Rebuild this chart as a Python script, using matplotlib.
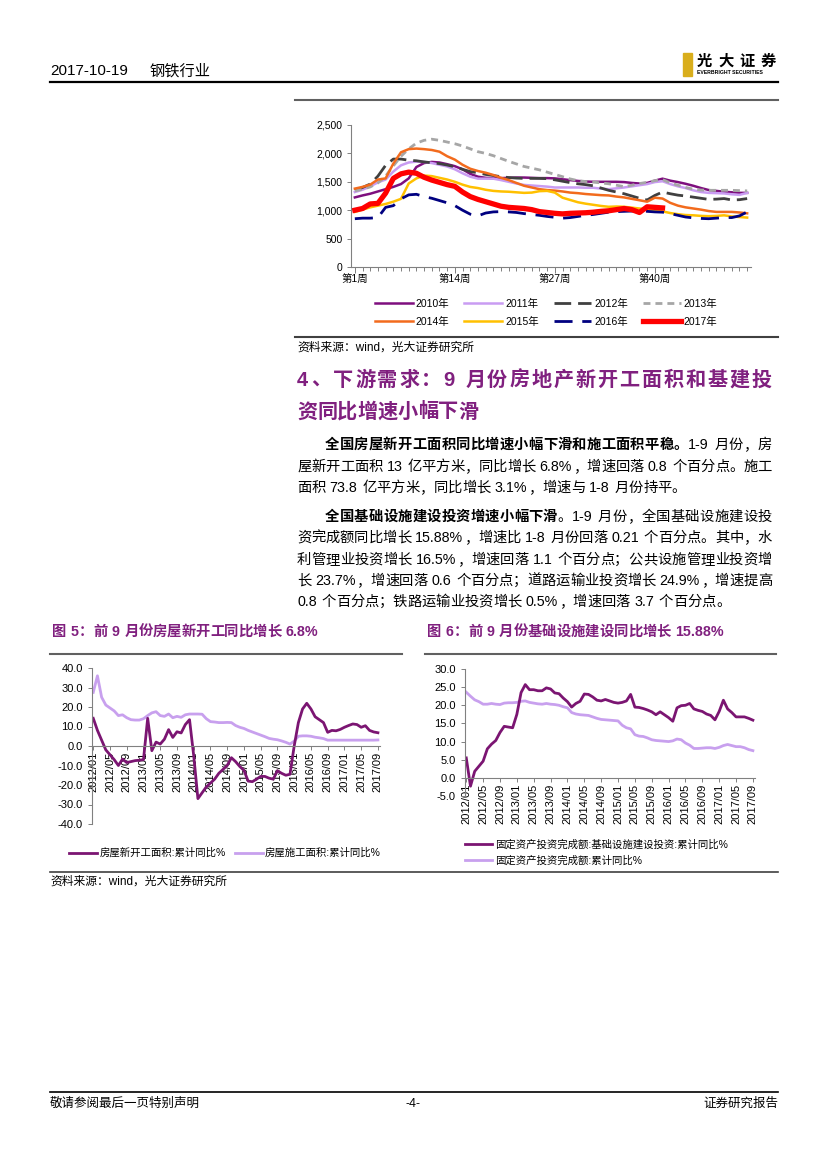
import matplotlib
matplotlib.use("Agg")
import matplotlib.pyplot as plt
from matplotlib.lines import Line2D
from matplotlib.patches import Rectangle
from matplotlib.ticker import FuncFormatter, FixedLocator, MultipleLocator
import numpy as np

plt.rcParams['font.family'] = ['Liberation Sans', 'Noto Sans CJK SC']

# ---------------- data ----------------
# weekly series (top chart)
weeks = np.arange(1, 53)
week_ticks = [1, 14, 27, 40]

s2010 = [1225, 1260, 1290, 1330, 1370, 1410, 1460, 1560, 1760, 1830, 1850, 1840, 1810, 1775, 1720, 1640,
         1590, 1570, 1560, 1565, 1570, 1575, 1575, 1570, 1565, 1565, 1560, 1545, 1530, 1515, 1505, 1500,
         1500, 1500, 1500, 1495, 1480, 1470, 1480, 1520, 1555, 1520, 1495, 1465, 1430, 1390, 1355, 1340,
         1325, 1315, 1305, 1305]
s2011 = [1320, 1360, 1420, 1490, 1540, 1680, 1790, 1840, 1855, 1850, 1830, 1800, 1770, 1720, 1650, 1590,
         1555, 1555, 1555, 1530, 1500, 1470, 1445, 1435, 1425, 1415, 1400, 1400, 1400, 1400, 1395, 1395,
         1380, 1370, 1385, 1400, 1420, 1440, 1460, 1495, 1510, 1460, 1420, 1390, 1350, 1320, 1305, 1300,
         1295, 1280, 1270, 1305]
s2012 = [1350, 1400, 1460, 1600, 1790, 1900, 1900, 1880, 1870, 1850, 1835, 1820, 1795, 1765, 1720, 1680,
         1660, 1630, 1610, 1590, 1575, 1565, 1560, 1560, 1560, 1555, 1535, 1510, 1485, 1465, 1450, 1430,
         1390, 1350, 1320, 1290, 1250, 1210, 1180, 1260, 1320, 1290, 1265, 1250, 1230, 1210, 1190, 1195,
         1205, 1180, 1185, 1205]
s2013 = [1340, 1370, 1410, 1480, 1600, 1780, 1950, 2080, 2180, 2230, 2250, 2230, 2200, 2170, 2130, 2080,
         2030, 2000, 1960, 1910, 1860, 1815, 1770, 1740, 1710, 1670, 1630, 1590, 1550, 1520, 1505, 1495,
         1480, 1465, 1440, 1415, 1440, 1470, 1490, 1520, 1540, 1480, 1440, 1400, 1370, 1355, 1350, 1350,
         1350, 1350, 1345, 1340]
s2014 = [1380, 1410, 1450, 1540, 1560, 1820, 2020, 2075, 2085, 2075, 2060, 2030, 1950, 1890, 1800, 1730,
         1690, 1660, 1620, 1570, 1530, 1480, 1430, 1400, 1370, 1355, 1345, 1330, 1310, 1300, 1285, 1275,
         1265, 1260, 1240, 1225, 1200, 1175, 1150, 1220, 1205, 1130, 1080, 1050, 1030, 1010, 985, 970,
         970, 970, 960, 945]
s2015 = [970, 1010, 1050, 1080, 1110, 1150, 1200, 1470, 1560, 1610, 1600, 1570, 1540, 1500, 1450, 1410,
         1390, 1360, 1340, 1330, 1325, 1315, 1305, 1310, 1335, 1340, 1310, 1220, 1180, 1140, 1115, 1095,
         1075, 1060, 1065, 1060, 1045, 1030, 1015, 1000, 980, 950, 930, 915, 910, 900, 895, 900,
         910, 890, 880, 870]
s2016 = [850, 860, 860, 870, 1050, 1080, 1200, 1270, 1280, 1240, 1210, 1170, 1130, 1080, 1000, 930,
         900, 950, 970, 975, 970, 960, 940, 925, 910, 890, 875, 860, 870, 890, 910, 925,
         945, 965, 975, 980, 985, 990, 980, 970, 965, 940, 910, 880, 865, 855, 850, 860,
         870, 870, 900, 970]
s2017 = [1000, 1030, 1110, 1120, 1300, 1560, 1640, 1670, 1650, 1580, 1530, 1490, 1450, 1420, 1320, 1240,
         1190, 1150, 1110, 1070, 1050, 1040, 1030, 1010, 975, 960, 945, 935, 945, 950, 955, 965,
         980, 990, 1010, 1030, 1010, 960, 1060, 1050, 1040]

# monthly series (bottom charts), 2012/01 .. 2017/09
months = [f"{y}/{m:02d}" for y in range(2012, 2018) for m in range(1, 13)][:69]

new_starts = [14.2, 8, 3, -2, -4.5, -7, -10, -6.7, -8.5, -8, -7.5, -7.3,
              -7, 14.2, -2.4, 2, 1, 3.5, 8.4, 4.4, 7.3, 6.7, 11, 13.5,
              -5, -27, -24, -21, -19, -17, -14, -12, -10, -6, -8, -10.5,
              -12.5, -18, -18.3, -17, -15.6, -15.6, -16.5, -17, -12.7, -14, -15, -14.5,
              0, 12, 19, 21.9, 19, 15, 13.5, 12, 7, 8, 7.8, 8.5,
              9.6, 10.5, 11.3, 11, 9.6, 10.4, 8, 7.2, 6.8]
under_constr = [27.5, 36, 25, 21, 19.5, 18, 15.6, 16, 14.5, 13.5, 13.3, 13.3,
                14, 15.6, 17, 17.6, 15.6, 15.2, 16.4, 14.5, 15.2, 14.7, 16, 16.4,
                16.4, 16.4, 16.3, 14, 12.5, 12.3, 12, 12, 12.1, 12, 10.5, 9.6,
                9, 8, 7.2, 6.4, 5.6, 4.8, 3.9, 3.5, 3.2, 2.6, 1.9, 1.0,
                2.5, 5, 5.2, 5.2, 5, 4.5, 4.2, 3.8, 3.0, 3.0, 3.0, 3.0,
                3.0, 3.0, 3.0, 3.0, 3.0, 3.0, 3.0, 3.0, 3.1]

infra = [5.5, -2.3, 1.8, 3.2, 4.6, 8, 9.3, 10.3, 12.5, 14.2, 14, 13.8,
         17.5, 23.5, 25.7, 24.3, 24.3, 24, 24, 24.8, 24.5, 23.4, 23.2, 22,
         21, 19.5, 20.5, 21.1, 23.1, 23, 22.3, 21.4, 21.2, 21.6, 21.2, 20.8,
         20.6, 20.8, 21.2, 23, 19.5, 19.4, 19.1, 18.7, 18.2, 17.4, 18.2, 17.4,
         16.6, 15.6, 19.3, 19.9, 20, 20.5, 19, 18.6, 18.3, 17.6, 17.2, 16,
         18.3, 21.4, 19, 18, 16.8, 16.8, 16.8, 16.4, 15.9]
fai = [23.6, 22.5, 21.5, 21, 20.3, 20.3, 20.5, 20.3, 20.2, 20.6, 20.7, 20.7,
       20.8, 21.1, 21.2, 20.8, 20.6, 20.4, 20.3, 20.5, 20.3, 20.2, 20.0, 19.6,
       19.3, 18, 17.6, 17.4, 17.3, 17.2, 16.8, 16.4, 16.1, 16, 15.9, 15.8,
       15.7, 14.5, 13.8, 13.5, 11.9, 11.5, 11.4, 11, 10.5, 10.3, 10.2, 10.1,
       10, 10.2, 10.7, 10.5, 9.6, 9, 8.1, 8.1, 8.2, 8.3, 8.3, 8.1,
       8.4, 8.9, 9.2, 8.9, 8.6, 8.6, 8.3, 7.8, 7.5]

# ---------------- page setup ----------------
W, H = 827, 1169
fig = plt.figure(figsize=(W / 100, H / 100), dpi=100)
renderer = fig.canvas.get_renderer()

PURPLE = '#80207F'
DARK = '#7B1572'
LIGHT = '#C8A0EE'
GRAY = '#808080'


def fx(x):
    return x / W


def fy(y):
    return 1 - y / H


def box(x0, y0, x1, y1):
    return [x0 / W, 1 - y1 / H, (x1 - x0) / W, (y1 - y0) / H]


def hline(y, x0, x1, lw=1.0, color='black'):
    fig.add_artist(Line2D([fx(x0), fx(x1)], [fy(y), fy(y)], lw=lw, color=color))


def tokens(s):
    out, buf = [], ''
    for ch in s:
        if ord(ch) < 128 and ch != ' ':
            buf += ch
        else:
            if buf:
                out.append(buf)
                buf = ''
            out.append(ch)
    if buf:
        out.append(buf)
    return out


def text_line(x0, x1, y, parts, size=10.3, justify=True, color='black'):
    em = size * 100 / 72
    objs, widths = [], []
    for s, w in parts:
        for tk in tokens(s):
            if tk == ' ':
                objs.append(None)
                widths.append(em * 0.28)
                continue
            t = fig.text(0, fy(y), tk, fontsize=size, weight=w, va='center', ha='left', color=color)
            objs.append(t)
            if ord(tk[0]) >= 128:
                widths.append(em)
            else:
                widths.append(t.get_window_extent(renderer).width + em * 0.05)
    gap = 0
    if justify and len(objs) > 1:
        gap = (x1 - x0 - sum(widths)) / (len(objs) - 1)
    x = x0
    for t, wd in zip(objs, widths):
        if t is not None:
            t.set_x(fx(x))
        x += wd + gap


# ---------------- header / footer ----------------
fig.text(fx(50), fy(71), "2017-10-19", fontsize=11, va='center')
fig.text(fx(150), fy(71), "钢铁行业", fontsize=11, va='center')
hline(82, 50, 778, lw=1.6)
fig.add_artist(Rectangle((fx(683), fy(76)), 9 / W, 23 / H, color='#D9AE1C', transform=fig.transFigure))
text_line(697, 776, 62, [("光大证券", 'bold')], size=11)
fig.text(fx(697), fy(72.5), "EVERBRIGHT SECURITIES", fontsize=3.7, weight='bold', va='center')

hline(1092, 50, 778, lw=1.2)
fig.text(fx(50), fy(1104), "敬请参阅最后一页特别声明", fontsize=9, va='center')
fig.text(fx(413), fy(1104), "-4-", fontsize=9, va='center', ha='center')
fig.text(fx(778), fy(1104), "证券研究报告", fontsize=9, va='center', ha='right')

# ---------------- top chart ----------------
hline(100, 295, 778, lw=1.5, color='#606060')
ax = fig.add_axes(box(351, 125, 751, 267))
styles = [
    (s2010, '2010年', '#7E0F7E', '-', 1.8),
    (s2011, '2011年', '#C99CF2', '-', 1.8),
    (s2012, '2012年', '#404040', (0, (6, 2.5)), 2.0),
    (s2013, '2013年', '#A6A6A6', (0, (2.5, 1.8)), 2.0),
    (s2014, '2014年', '#F26B1D', '-', 1.8),
    (s2015, '2015年', '#FFC000', '-', 1.8),
    (s2016, '2016年', '#000080', (0, (6.5, 3.5)), 2.0),
    (s2017, '2017年', '#FF0000', '-', 3.8),
]
handles = {}
for vals, lab, col, ls, lw in styles:
    h, = ax.plot(weeks[:len(vals)], vals, color=col, linestyle=ls, lw=lw, label=lab)
    handles[lab] = h
ax.set_xlim(0.5, 52.5)
ax.set_ylim(0, 2500)
ax.yaxis.set_major_locator(MultipleLocator(500))
ax.yaxis.set_major_formatter(FuncFormatter(lambda v, p: f"{int(v):,}"))
ax.xaxis.set_major_locator(FixedLocator(week_ticks))
ax.xaxis.set_minor_locator(FixedLocator(list(weeks)))
ax.set_xticklabels([f"第{w}周" for w in week_ticks])
for sp in ['top', 'right']:
    ax.spines[sp].set_visible(False)
for sp in ['left', 'bottom']:
    ax.spines[sp].set_color(GRAY)
    ax.spines[sp].set_linewidth(0.8)
ax.tick_params(axis='both', which='both', colors=GRAY, labelcolor='black', labelsize=7.5, width=0.7)
ax.tick_params(axis='x', which='major', length=4, pad=1)
ax.tick_params(axis='x', which='minor', length=3)
ax.tick_params(axis='y', length=3, pad=3)

order = ['2010年', '2014年', '2011年', '2015年', '2012年', '2016年', '2013年', '2017年']
ax.legend([handles[k] for k in order], order, ncol=4, loc='upper left',
          bbox_to_anchor=(fx(375), fy(299)), bbox_transform=fig.transFigure,
          frameon=False, fontsize=7.5, handlelength=3.6, handletextpad=0.3,
          columnspacing=1.45, labelspacing=0.72, borderpad=0, borderaxespad=0)

hline(337, 295, 778, lw=1.5, color='#404040')
fig.text(fx(297), fy(348), "资料来源：wind，光大证券研究所", fontsize=8.5, va='center')

# ---------------- section text ----------------
text_line(297, 772, 380, [("4、下游需求：9 月份房地产新开工面积和基建投", 'bold')], size=14.5, color=PURPLE)
text_line(297, 772, 412, [("资同比增速小幅下滑", 'bold')], size=14.5, justify=False, color=PURPLE)

text_line(325, 772, 445, [("全国房屋新开工面积同比增速小幅下滑和施工面积平稳。", 'bold'), ("1-9 月份，房", 'normal')])
text_line(297, 772, 467, [("屋新开工面积 13 亿平方米，同比增长 6.8%，增速回落 0.8 个百分点。施工", 'normal')])
text_line(297, 772, 488, [("面积 73.8 亿平方米，同比增长 3.1%，增速与 1-8 月份持平。", 'normal')], justify=False)

text_line(325, 772, 517, [("全国基础设施建设投资增速小幅下滑", 'bold'), ("。1-9 月份，全国基础设施建设投", 'normal')])
text_line(297, 772, 538, [("资完成额同比增长 15.88%，增速比 1-8 月份回落 0.21 个百分点。其中，水", 'normal')])
text_line(297, 772, 560, [("利管理业投资增长 16.5%，增速回落 1.1 个百分点；公共设施管理业投资增", 'normal')])
text_line(297, 772, 581, [("长 23.7%，增速回落 0.6 个百分点；道路运输业投资增长 24.9%，增速提高", 'normal')])
text_line(297, 772, 602, [("0.8 个百分点；铁路运输业投资增长 0.5%，增速回落 3.7 个百分点。", 'normal')], justify=False)

# ---------------- figure 5 / figure 6 captions ----------------
text_line(52, 400, 632, [("图 5：前 9 月份房屋新开工同比增长 6.8%", 'bold')], size=10.3, justify=False, color=PURPLE)
text_line(427, 775, 632, [("图 6：前 9 月份基础设施建设同比增长 15.88%", 'bold')], size=10.3, justify=False, color=PURPLE)
hline(654, 50, 402, lw=1.5, color='#606060')
hline(654, 425, 776, lw=1.5, color='#606060')

x_m = np.arange(len(months))
tick_idx = list(range(0, len(months), 4))


def month_axes(a, ymin, ymax, step):
    a.set_xlim(-0.3, 68.5)
    a.set_ylim(ymin, ymax)
    a.yaxis.set_major_locator(MultipleLocator(step))
    a.yaxis.set_major_formatter(FuncFormatter(lambda v, p: f"{v:.1f}"))
    a.set_xticks(tick_idx)
    a.set_xticklabels([months[i] for i in tick_idx])
    for sp in ['top', 'right']:
        a.spines[sp].set_visible(False)
    a.spines['bottom'].set_position(('data', 0))
    for sp in ['left', 'bottom']:
        a.spines[sp].set_color(GRAY)
        a.spines[sp].set_linewidth(0.8)
    a.tick_params(axis='both', colors=GRAY, labelcolor='black', labelsize=8, length=3, width=0.7)
    a.tick_params(axis='x', pad=1, labelrotation=90)


# figure 5
ax5 = fig.add_axes(box(92, 668, 380, 824))
l5b, = ax5.plot(x_m, under_constr, color=LIGHT, lw=2.0)
l5a, = ax5.plot(x_m, new_starts, color=DARK, lw=2.0)
month_axes(ax5, -40, 40, 10)
ax5.legend([l5a, l5b], ["房屋新开工面积:累计同比%", "房屋施工面积:累计同比%"], ncol=2,
           loc='center left', bbox_to_anchor=(fx(69), fy(853)), bbox_transform=fig.transFigure,
           frameon=False, fontsize=7.5, handlelength=2.7, handletextpad=0.2,
           columnspacing=0.9, borderpad=0, borderaxespad=0)

# figure 6
ax6 = fig.add_axes(box(465, 669, 755, 796))
l6b, = ax6.plot(x_m, fai, color=LIGHT, lw=2.0)
l6a, = ax6.plot(x_m, infra, color=DARK, lw=2.0)
month_axes(ax6, -5, 30, 5)
ax6.legend([l6a, l6b], ["固定资产投资完成额:基础设施建设投资:累计同比%", "固定资产投资完成额:累计同比%"],
           ncol=1, loc='upper left', bbox_to_anchor=(fx(465), fy(839)), bbox_transform=fig.transFigure,
           frameon=False, fontsize=7.5, handlelength=2.6, handletextpad=0.3,
           labelspacing=0.55, borderpad=0, borderaxespad=0)

hline(872, 50, 778, lw=1.2, color='#404040')
fig.text(fx(50), fy(882), "资料来源：wind，光大证券研究所", fontsize=8.5, va='center')

fig.savefig("out.png", dpi=100)
